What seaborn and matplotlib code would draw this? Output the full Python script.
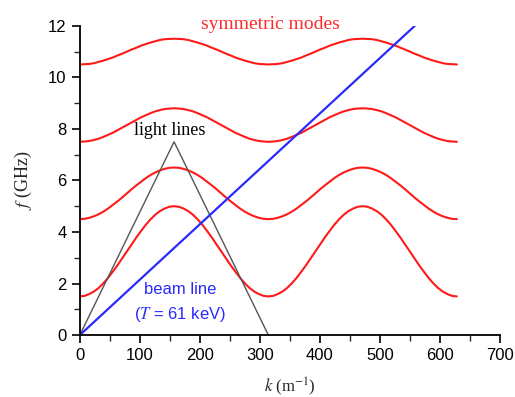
import matplotlib
matplotlib.use("Agg")
import matplotlib.pyplot as plt
from matplotlib.ticker import MultipleLocator
import numpy as np
import seaborn as sns

sns.set_theme(style="ticks")
plt.rcParams["mathtext.fontset"] = "stix"
plt.rcParams["font.family"] = ["Liberation Sans", "DejaVu Sans"]

# wavenumber samples (m^-1), two periods of the mode pattern
k = np.linspace(0, 628, 81)

# symmetric modes (GHz): rising half-period (k = 0 .. 157)
rise1 = [1.50, 1.52, 1.59, 1.69, 1.83, 2.01, 2.22, 2.46, 2.71, 2.98, 3.25,
         3.52, 3.79, 4.04, 4.28, 4.49, 4.67, 4.81, 4.91, 4.98, 5.00]
rise2 = [4.50, 4.51, 4.55, 4.61, 4.69, 4.79, 4.91, 5.05, 5.19, 5.34, 5.50,
         5.66, 5.81, 5.95, 6.09, 6.21, 6.31, 6.39, 6.45, 6.49, 6.50]
rise3 = [7.50, 7.51, 7.53, 7.57, 7.62, 7.69, 7.77, 7.85, 7.95, 8.05, 8.15,
         8.25, 8.35, 8.45, 8.53, 8.61, 8.68, 8.73, 8.77, 8.79, 8.80]
rise4 = [10.50, 10.51, 10.52, 10.55, 10.60, 10.65, 10.71, 10.77, 10.85, 10.92, 11.00,
         11.08, 11.15, 11.23, 11.29, 11.35, 11.40, 11.45, 11.48, 11.49, 11.50]


def full_mode(rise):
    # up, down, up, down over two periods
    fall = rise[::-1][1:]
    return rise + fall + rise[1:] + fall


modes = [full_mode(r) for r in [rise1, rise2, rise3, rise4]]

# light lines and beam line
light_k = [0, 157, 314]
light_f = [0, 7.5, 0]
beam_k = [0, 558]
beam_f = [0, 12]

fig = plt.figure(figsize=(5.15, 3.97), dpi=100)
ax = fig.add_axes([0.155, 0.156, 0.816, 0.779])

for m in modes:
    sns.lineplot(x=k, y=m, ax=ax, color="#ff1a1a", linewidth=1.5)
sns.lineplot(x=light_k, y=light_f, ax=ax, color="#555555", linewidth=1.0)
sns.lineplot(x=beam_k, y=beam_f, ax=ax, color="#2a2aff", linewidth=1.6)

ax.set_xlim(0, 700)
ax.set_ylim(0, 12)
ax.xaxis.set_major_locator(MultipleLocator(100))
ax.xaxis.set_minor_locator(MultipleLocator(50))
ax.yaxis.set_major_locator(MultipleLocator(2))
ax.yaxis.set_minor_locator(MultipleLocator(1))
ax.tick_params(which="major", direction="out", length=6, width=1.2, labelsize=12, colors="black")
ax.tick_params(which="minor", direction="out", length=4, width=1.0)
for s in ["top", "right"]:
    ax.spines[s].set_visible(False)
for s in ["left", "bottom"]:
    ax.spines[s].set_linewidth(1.3)
    ax.spines[s].set_color("black")

serif = ["Liberation Serif", "DejaVu Serif"]
ax.set_xlabel(r"$k$ (m$^{-1}$)", family=serif, fontsize=12, labelpad=9)
ax.set_ylabel(r"$f$ (GHz)", family=serif, fontsize=13, labelpad=10)

ax.text(317, 12.05, "symmetric modes", color="#ff2a2a", family=serif, fontsize=14, ha="center", va="center")
ax.text(150, 7.95, "light lines", color="black", family=serif, fontsize=13, ha="center", va="center")
ax.text(167, 1.75, "beam line", color="#2a2aff", fontsize=12, ha="center", va="center")
ax.text(167, 0.78, "($T$ = 61 keV)", color="#2a2aff", fontsize=12, ha="center", va="center")

fig.savefig("out.png", dpi=100)
